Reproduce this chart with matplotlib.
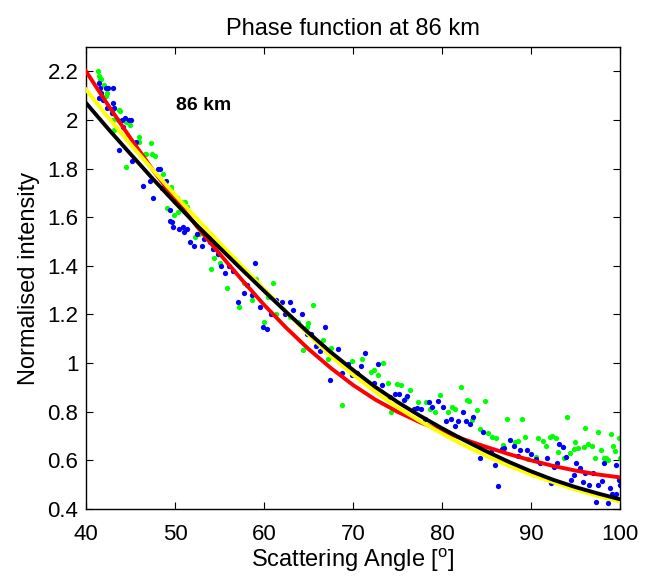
import matplotlib
matplotlib.use("Agg")
import matplotlib.pyplot as plt

plt.rcParams['font.family'] = ['Liberation Sans', 'DejaVu Sans']
plt.rcParams['mathtext.fontset'] = 'custom'
plt.rcParams['mathtext.rm'] = 'Liberation Sans'
plt.rcParams['mathtext.it'] = 'Liberation Sans'

# ---- data ----
blue_x = [41.5, 41.5, 41.6, 41.7, 41.9, 42.2, 42.4, 42.5, 42.9, 43.0, 43.0, 43.1, 43.7, 44.1, 44.2, 44.4,
          44.8, 45.1, 45.2, 45.6, 46.4, 47.2, 47.5, 48.1, 48.3, 48.5, 48.9, 49.0, 49.4, 49.4, 49.7, 49.8,
          50.2, 50.4, 50.9, 51.0, 51.3, 51.7, 52.1, 52.5, 53.0, 53.3, 53.9, 54.3, 54.8, 55.2, 55.6, 56.1,
          56.5, 57.1, 57.7, 58.1, 58.6, 59.0, 59.6, 59.9, 60.3, 60.8, 61.4, 62.0, 62.4, 62.9, 63.3, 64.3,
          64.8, 65.3, 65.8, 66.3, 66.9, 67.4, 68.3, 68.8, 69.4, 69.9, 70.4, 70.9, 71.4, 72.4, 72.8, 73.3,
          74.2, 74.7, 75.2, 75.7, 76.1, 76.8, 77.2, 77.6, 78.1, 78.5, 78.9, 79.6, 80.1, 80.5, 81.0, 81.5,
          81.8, 82.4, 82.7, 83.1, 83.5, 84.3, 84.6, 85.5, 85.9, 86.3, 86.7, 87.0, 87.6, 88.1, 88.5, 88.8,
          89.6, 90.0, 90.6, 91.0, 91.8, 92.2, 92.6, 92.9, 93.2, 93.6, 93.9, 94.5, 94.8, 95.1, 95.5, 95.8,
          96.1, 96.5, 97.0, 97.3, 97.5, 98.0, 98.2, 98.6, 98.9, 99.1, 99.5, 99.6, 99.9, 100.0]
blue_y = [2.15, 2.09, 2.13, 2.11, 2.08, 2.13, 2.05, 2.13, 2.03, 2.13, 2.07, 2.05, 1.875, 2.00, 1.97, 2.01,
          2.00, 2.00, 1.83, 1.91, 1.73, 1.75, 1.68, 1.80, 1.80, 1.72, 1.73, 1.75, 1.63, 1.585, 1.58, 1.56,
          1.68, 1.55, 1.56, 1.54, 1.55, 1.50, 1.48, 1.53, 1.48, 1.51, 1.50, 1.47, 1.45, 1.40, 1.37, 1.40,
          1.38, 1.25, 1.29, 1.32, 1.28, 1.41, 1.23, 1.15, 1.14, 1.20, 1.26, 1.25, 1.20, 1.25, 1.22, 1.20,
          1.12, 1.12, 1.07, 1.05, 1.15, 0.93, 1.06, 0.96, 0.995, 0.95, 0.96, 0.99, 1.04, 0.92, 0.995, 0.91,
          0.86, 0.875, 0.875, 0.85, 0.865, 0.81, 0.815, 0.81, 0.77, 0.84, 0.82, 0.845, 0.82, 0.763, 0.77, 0.74,
          0.76, 0.80, 0.76, 0.75, 0.78, 0.608, 0.717, 0.636, 0.58, 0.495, 0.647, 0.652, 0.684, 0.66, 0.62, 0.642,
          0.642, 0.625, 0.605, 0.59, 0.611, 0.505, 0.572, 0.59, 0.666, 0.656, 0.615, 0.519, 0.54, 0.59, 0.57, 0.51,
          0.547, 0.50, 0.55, 0.43, 0.50, 0.517, 0.59, 0.423, 0.488, 0.46, 0.46, 0.58, 0.52, 0.50]

green_x = [41.3, 41.5, 41.6, 41.7, 42.0, 42.3, 42.4, 43.0, 43.0, 43.1, 43.6, 43.7, 43.8, 44.5, 44.5, 44.9,
           46.0, 46.0, 46.6, 46.7, 47.3, 47.4, 47.7, 48.7, 49.1, 49.5, 49.5, 49.9, 50.3, 50.8, 51.1, 51.4,
           52.2, 52.7, 53.8, 54.0, 54.4, 55.0, 55.8, 57.2, 57.7, 58.6, 59.1, 60.0, 60.5, 61.0, 61.4, 62.9,
           63.8, 64.4, 64.8, 64.9, 65.5, 66.6, 67.2, 67.5, 68.8, 69.9, 71.0, 72.0, 72.4, 72.8, 73.4, 73.9,
           74.3, 74.9, 75.4, 76.0, 76.4, 77.3, 78.2, 78.7, 79.2, 79.8, 80.7, 81.1, 81.5, 82.1, 82.8, 83.0,
           83.4, 83.9, 84.3, 84.8, 85.2, 85.6, 86.1, 86.8, 87.3, 88.2, 88.5, 89.0, 89.3, 89.7, 90.6, 90.8,
           91.4, 91.7, 92.1, 92.4, 92.8, 93.0, 93.7, 94.0, 94.4, 94.8, 94.9, 95.3, 95.9, 96.1, 96.4, 96.8,
           97.2, 97.5, 97.9, 98.2, 98.4, 98.7, 99.0, 99.2, 99.4, 99.9, 100.0]
green_y = [2.20, 2.18, 2.17, 2.17, 2.145, 2.10, 2.11, 2.047, 2.00, 1.958, 2.00, 2.04, 2.036, 1.99, 1.806, 1.98,
           1.93, 1.91, 1.858, 1.86, 1.906, 1.858, 1.85, 1.777, 1.636, 1.71, 1.725, 1.61, 1.62, 1.663, 1.663, 1.64,
           1.52, 1.53, 1.52, 1.386, 1.434, 1.41, 1.31, 1.23, 1.33, 1.26, 1.344, 1.17, 1.27, 1.33, 1.20, 1.19,
           1.17, 1.053, 1.15, 1.166, 1.24, 1.097, 1.018, 1.064, 0.827, 1.01, 1.015, 0.964, 0.97, 0.95, 0.999, 0.917,
           0.80, 0.913, 0.91, 0.856, 0.89, 0.838, 0.84, 0.81, 0.80, 0.867, 0.80, 0.82, 0.81, 0.90, 0.85, 0.844,
           0.766, 0.807, 0.729, 0.844, 0.711, 0.697, 0.69, 0.663, 0.769, 0.677, 0.68, 0.77, 0.697, 0.604, 0.615, 0.694,
           0.68, 0.659, 0.697, 0.70, 0.693, 0.636, 0.608, 0.777, 0.63, 0.645, 0.677, 0.65, 0.654, 0.734, 0.668, 0.66,
           0.611, 0.715, 0.642, 0.61, 0.61, 0.60, 0.708, 0.66, 0.64, 0.693, 0.61]

curve_x = [40, 42.5, 45, 47.5, 50, 52.5, 55, 57.5, 60, 62.5, 65, 67.5, 70, 72.5, 75, 77.5,
           80, 82.5, 85, 87.5, 90, 92.5, 95, 97.5, 100]
red_y = [2.20, 2.06, 1.925, 1.795, 1.675, 1.56, 1.45, 1.343, 1.24, 1.145, 1.058, 0.98, 0.91, 0.85, 0.80, 0.757,
         0.72, 0.686, 0.655, 0.626, 0.60, 0.577, 0.558, 0.542, 0.53]
yellow_y = [2.125, 2.01, 1.90, 1.795, 1.692, 1.592, 1.495, 1.40, 1.305, 1.21, 1.117, 1.03, 0.952, 0.882, 0.818, 0.762,
            0.71, 0.662, 0.618, 0.578, 0.542, 0.51, 0.48, 0.454, 0.43]
black_y = [2.07, 1.963, 1.86, 1.758, 1.66, 1.565, 1.475, 1.385, 1.297, 1.21, 1.125, 1.045, 0.972, 0.902, 0.84, 0.784,
           0.732, 0.683, 0.637, 0.594, 0.555, 0.52, 0.49, 0.464, 0.44]

x_ticks = [40, 50, 60, 70, 80, 90, 100]
y_ticks = [0.4, 0.6, 0.8, 1.0, 1.2, 1.4, 1.6, 1.8, 2.0, 2.2]
y_tick_labels = ['0.4', '0.6', '0.8', '1', '1.2', '1.4', '1.6', '1.8', '2', '2.2']

fig = plt.figure(figsize=(6.54, 5.79), dpi=100)
ax = fig.add_axes([86/654, 1 - 509/579, (620-86)/654, (509-47)/579])

ax.plot(green_x, green_y, 'o', color=(0, 1, 0), markersize=3.8, markeredgewidth=0, zorder=2)
ax.plot(blue_x, blue_y, 'o', color=(0, 0, 1), markersize=3.8, markeredgewidth=0, zorder=2)
ax.plot(curve_x, red_y, '-', color=(1, 0, 0), linewidth=2.8, zorder=3)
ax.plot(curve_x, yellow_y, '-', color=(1, 1, 0), linewidth=2.8, zorder=3)
ax.plot(curve_x, black_y, '-', color='black', linewidth=2.8, zorder=3)

ax.set_xlim(40, 100)
ax.set_ylim(0.4, 2.3)
ax.set_xticks(x_ticks)
ax.set_xticklabels([str(v) for v in x_ticks])
ax.set_yticks(y_ticks)
ax.set_yticklabels(y_tick_labels)
ax.tick_params(direction='in', length=5, width=0.8, top=True, right=True, labelsize=16)
ax.tick_params(axis='x', pad=11)
ax.tick_params(axis='y', pad=5.5)
for s in ax.spines.values():
    s.set_linewidth(1.0)

ax.set_title('Phase function at 86 km', fontsize=17, pad=9)
ax.set_xlabel('Scattering Angle [$^\\mathrm{o}$]', fontsize=17, labelpad=1)
ax.set_ylabel('Normalised intensity', fontsize=17, labelpad=5)
ax.text(50.1, 2.06, '86 km', fontsize=14, fontweight='bold', va='center', ha='left')

fig.savefig('out.png', dpi=100)
